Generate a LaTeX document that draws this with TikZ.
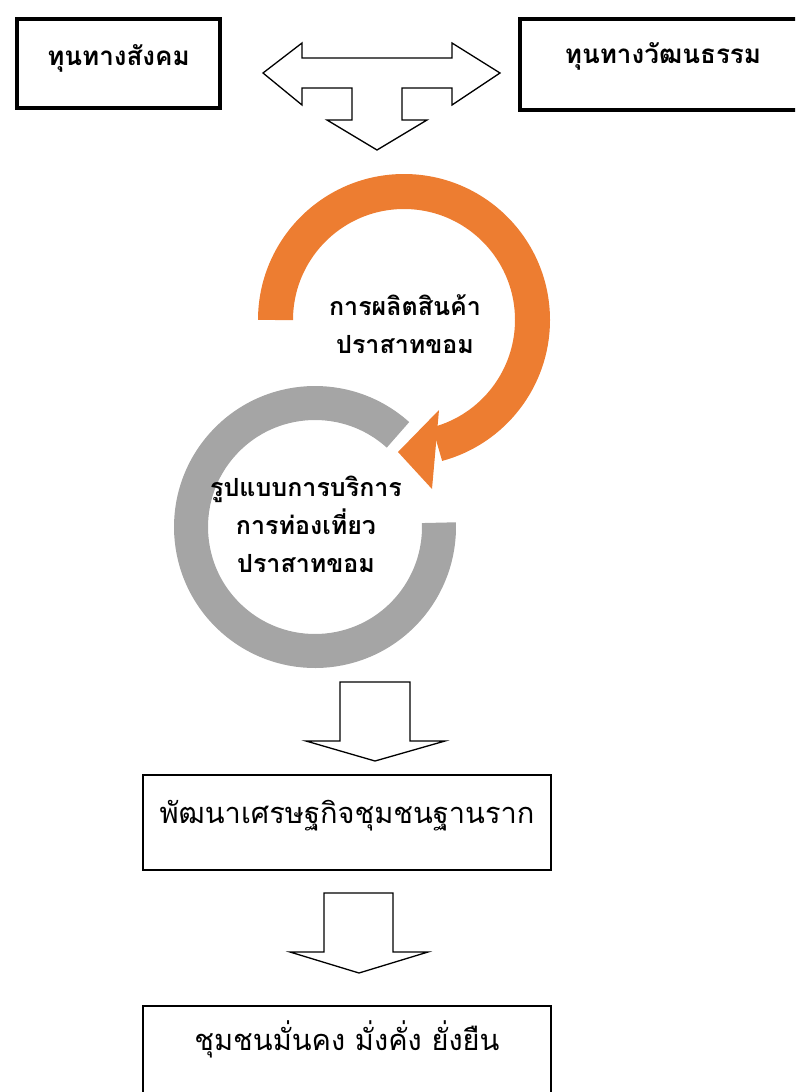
\documentclass[tikz,border=0pt]{standalone}
\usepackage{fontspec}
\newfontfamily\thaifont[Script=Thai]{Loma}
\usetikzlibrary{positioning}
\definecolor{ringorange}{HTML}{ED7D31}
\definecolor{ringgray}{HTML}{A5A5A5}

\begin{document}
\begin{tikzpicture}[x=1pt, y=1pt,
        capbox/.style={draw, line width=3.5pt, anchor=base, inner sep=0pt,
            font=\thaifont\bfseries\fontsize{26}{30}\selectfont},
        goalbox/.style={draw, line width=1.6pt, anchor=base, inner sep=0pt,
            font=\thaifont\fontsize{29}{34}\selectfont},
        ringlabel/.style={align=center,
            font=\thaifont\bfseries\fontsize{25}{38}\selectfont},
        blockarrow/.style={draw, line width=1.3pt, fill=white, line join=miter}]
    \path[use as bounding box, clip] (0,0) rectangle (795,-1092);

    % capitals
    \node[capbox, minimum width=203pt, text height=46pt, text depth=43pt] (social) at (118.5,-65) {ทุนทางสังคม};
    \node[capbox, minimum width=286pt, text height=44pt, text depth=47pt] (culture) at (663,-63) {ทุนทางวัฒนธรรม};
    \draw[blockarrow] (263,-73) -- (302,-43) -- (302,-58) -- (452,-58) -- (452,-43) -- (500,-73)
        -- (452,-105) -- (452,-88) -- (402,-88) -- (402,-120) -- (427,-120) -- (377,-150)
        -- (327,-120) -- (352,-120) -- (352,-88) -- (302,-88) -- (302,-105) -- cycle;

    % cycle of the two rings
    \coordinate (oc) at (404,-320);
    \coordinate (gc) at (315,-527);
    \draw[ringgray, line width=34pt] ([shift={(48:124)}]gc) arc[start angle=48, end angle=362, radius=124];
    \draw[ringorange, line width=35pt] ([shift={(180:128.5)}]oc) arc[start angle=180, end angle=-75, radius=128.5];
    \fill[ringorange] (439,-410) -- (398,-452) -- (432,-489) -- cycle;
    \node[ringlabel] (product) at (405,-324) {การผลิตสินค้า\\ปราสาทขอม};
    \node[ringlabel] (service) at (306,-524) {รูปแบบการบริการ\\การท่องเที่ยว\\ปราสาทขอม};

    % outcomes
    \draw[blockarrow] (340,-682) -- (410,-682) -- (410,-741) -- (445,-741) -- (375,-761)
        -- (306,-741) -- (340,-741) -- cycle;
    \node[goalbox, minimum width=408pt, text height=48pt, text depth=47pt] (economy) at (347,-823) {พัฒนาเศรษฐกิจชุมชนฐานราก};
    \draw[blockarrow] (324,-893) -- (393,-893) -- (393,-952) -- (428,-952) -- (359,-973)
        -- (290,-952) -- (324,-952) -- cycle;
    \node[goalbox, minimum width=408pt, text height=44pt, text depth=70pt] (stable) at (347,-1050) {ชุมชนมั่นคง มั่งคั่ง ยั่งยืน};
\end{tikzpicture}
\end{document}
